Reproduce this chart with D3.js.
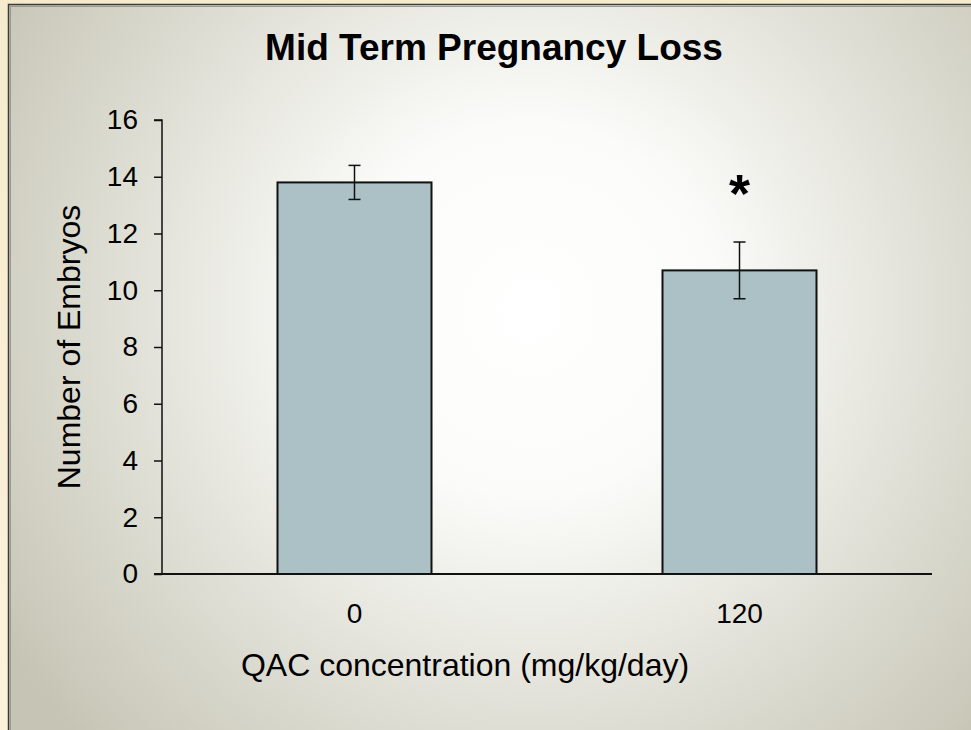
<!DOCTYPE html>
<html><head><meta charset="utf-8">
<script src="https://cdn.jsdelivr.net/npm/d3@7"></script>
<style>html,body{margin:0;padding:0;background:#f7eed3;}svg{display:block;}</style>
</head><body>
<script>
const categories = ["0", "120"];
const values = [13.8, 10.7];
const errors = [0.6, 1.0];
const significant = [false, true];
const yTicks = [0, 2, 4, 6, 8, 10, 12, 14, 16];
const title = "Mid Term Pregnancy Loss";
const xTitle = "QAC concentration (mg/kg/day)";
const yTitle = "Number of Embryos";

const W = 971, H = 730;
const svg = d3.select("body").append("svg").attr("width", W).attr("height", H);
const defs = svg.append("defs");
const bgGrad = defs.append("linearGradient").attr("id","outer").attr("x1",0).attr("y1",0).attr("x2",0).attr("y2",1);
bgGrad.append("stop").attr("offset","0%").attr("stop-color","#f5ebcc");
bgGrad.append("stop").attr("offset","100%").attr("stop-color","#fdf2dc");
svg.append("rect").attr("width",W).attr("height",H).attr("fill","url(#outer)");

const rg = defs.append("radialGradient").attr("id","bg").attr("gradientUnits","userSpaceOnUse")
  .attr("cx",530).attr("cy",310).attr("r",620).attr("fx",530).attr("fy",310);
rg.append("stop").attr("offset","0%").attr("stop-color","#ffffff");
rg.append("stop").attr("offset","30%").attr("stop-color","#fbfbf9");
rg.append("stop").attr("offset","100%").attr("stop-color","#c6c5b5");

svg.append("rect").attr("x",8.5).attr("y",4.5).attr("width",W).attr("height",H)
  .attr("fill","url(#bg)").attr("stroke","#3a3a3a").attr("stroke-width",1.5);
svg.append("line").attr("x1",10).attr("x2",W).attr("y1",6.5).attr("y2",6.5).attr("stroke","#9a9a90").attr("stroke-width",1);
svg.append("line").attr("x1",10.5).attr("x2",10.5).attr("y1",6).attr("y2",H).attr("stroke","#9a9a90").attr("stroke-width",1);

const x0 = 162, x1 = 932, yTop = 120, yBot = 574;
const x = d3.scaleBand().domain(categories).range([x0, x1]).paddingInner(0.6).paddingOuter(0.3);
const y = d3.scaleLinear().domain([0, 16]).range([yBot, yTop]);

const font = "Liberation Sans, Arial, sans-serif";

// bars
svg.append("g").selectAll("rect").data(categories).join("rect")
  .attr("x", d => x(d)).attr("width", x.bandwidth())
  .attr("y", (d,i) => y(values[i])).attr("height", (d,i) => y(0) - y(values[i]))
  .attr("fill", "#abc1c6").attr("stroke", "#111").attr("stroke-width", 2);

// error bars
const eg = svg.append("g").attr("stroke","#111").attr("stroke-width",1.5);
categories.forEach((c,i) => {
  const cx = x(c) + x.bandwidth()/2;
  eg.append("line").attr("x1",cx).attr("x2",cx).attr("y1",y(values[i]+errors[i])).attr("y2",y(values[i]-errors[i]));
  eg.append("line").attr("x1",cx-6).attr("x2",cx+6).attr("y1",y(values[i]+errors[i])).attr("y2",y(values[i]+errors[i]));
  eg.append("line").attr("x1",cx-6).attr("x2",cx+6).attr("y1",y(values[i]-errors[i])).attr("y2",y(values[i]-errors[i]));
  if (significant[i]) {
    svg.append("text").attr("x",cx).attr("y",y(values[i]+errors[i]) - 30)
      .attr("text-anchor","middle").attr("font-family",font).attr("font-weight","bold")
      .attr("font-size",54).attr("fill","#000").text("*");
  }
});

// y axis
const yAxis = d3.axisLeft(y).tickValues(yTicks).tickSize(8).tickPadding(16).tickFormat(d3.format("d"));
const ga = svg.append("g").attr("transform",`translate(${x0},0)`).call(yAxis);
ga.select(".domain").attr("stroke","#111").attr("stroke-width",1.5).attr("d", `M-8,${yTop}H0V${yBot}`);
ga.selectAll(".tick line").attr("stroke","#111").attr("stroke-width",1.5);
ga.selectAll("text").attr("font-family",font).attr("font-size",28).attr("fill","#000");

// x axis
const xAxis = d3.axisBottom(x).tickSize(0).tickPadding(29);
const gx = svg.append("g").attr("transform",`translate(0,${yBot})`).call(xAxis);
gx.select(".domain").attr("stroke","#111").attr("stroke-width",2).attr("d", `M${x0-8},0H${x1}`);
gx.selectAll("text").attr("font-family",font).attr("font-size",28).attr("fill","#000");

// titles
svg.append("text").attr("x",494).attr("y",60).attr("text-anchor","middle")
  .attr("font-family",font).attr("font-weight","bold").attr("font-size",37).attr("fill","#000").text(title);
svg.append("text").attr("x",465).attr("y",676).attr("text-anchor","middle")
  .attr("font-family",font).attr("font-size",32).attr("fill","#000").text(xTitle);
svg.append("text").attr("transform",`translate(80,${(yTop+yBot)/2}) rotate(-90)`).attr("text-anchor","middle")
  .attr("font-family",font).attr("font-size",32).attr("fill","#000").text(yTitle);
</script>
</body></html>
